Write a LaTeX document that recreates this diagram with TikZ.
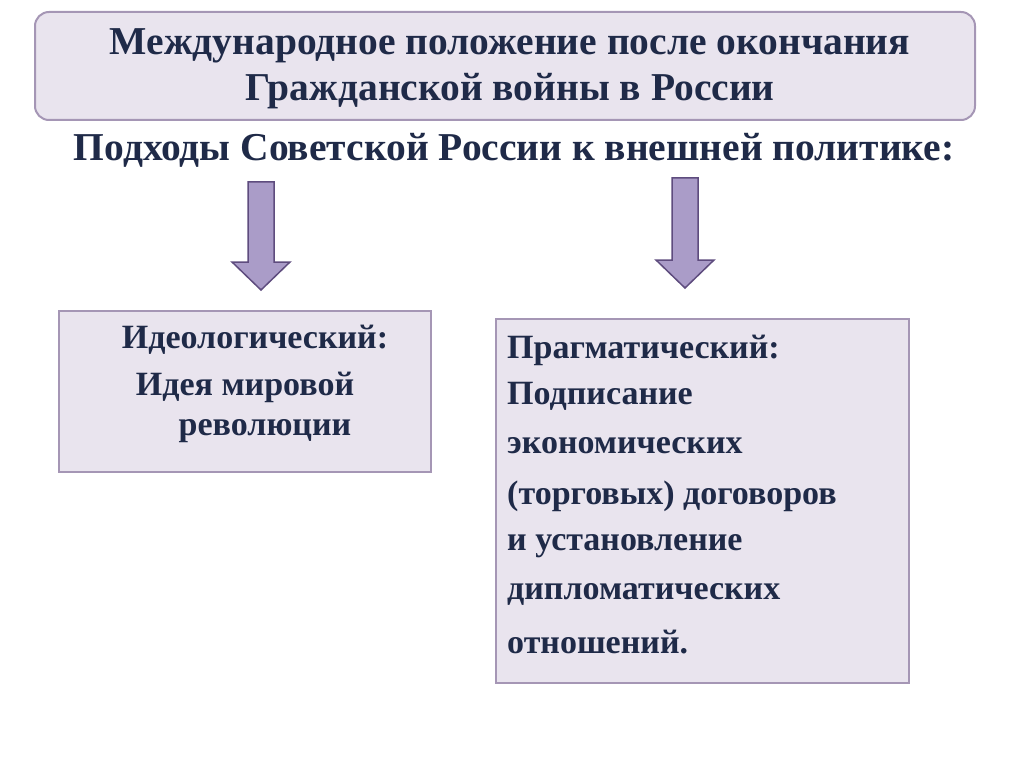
\documentclass[tikz,border=0pt]{standalone}
\usepackage{fontspec}
\setmainfont{Liberation Serif}
\definecolor{txt}{HTML}{1F2A48}
\definecolor{boxfill}{HTML}{E9E4EE}
\definecolor{boxline}{HTML}{A596B5}
\definecolor{arrfill}{HTML}{AA9CC8}
\definecolor{arrline}{HTML}{5E4C7E}
\tikzset{
 t/.style={text=txt,font=\bfseries\fontsize{39.5}{46}\selectfont,align=center,inner sep=0pt},
 b/.style={text=txt,font=\bfseries\fontsize{34}{40}\selectfont,inner sep=0pt},
 panel/.style={draw=boxline,fill=boxfill,line width=1.2pt},
 arr/.style={draw=arrline,fill=arrfill,line width=1.5pt,line join=miter}
}
\begin{document}
\begin{tikzpicture}[x=1pt,y=-1pt]
\useasboundingbox (0,0) rectangle (1024,767);
\draw[panel,rounded corners=14pt,line width=2pt] (35,12) rectangle (975,120);
\node[t] (title) at (510,69) {Международное положение после окончания\\Гражданской войны в России};
\node[t] (sub) at (514,150) {Подходы Советской России к внешней политике:};
\foreach \x/\yt/\yb/\n in {261/182/290/a1,685/178/288/a2}{
 \draw[arr] (\x-13,\yt) -- (\x+13,\yt) -- (\x+13,\yb-28) -- (\x+29,\yb-28) -- (\x,\yb) -- (\x-29,\yb-28) -- (\x-13,\yb-28) -- cycle;
 \coordinate (\n) at (\x,\yb);
}
\draw[panel] (59,311) rectangle (431,472);
\node[b] (l1) at (255,340) {Идеологический:};
\node[b] (l2) at (245,387) {Идея мировой};
\node[b] (l3) at (265,431) {революции};
\draw[panel] (496,319) rectangle (909,683);
\foreach \y/\s/\n in {350/Прагматический:/r1,396/Подписание/r2,446/экономических/r3,496/(торговых) договоров/r4,546/и установление/r5,594/дипломатических/r6,642/отношений./r7}
 \node[b,anchor=west] (\n) at (507,\y) {\s};
\end{tikzpicture}
\end{document}
